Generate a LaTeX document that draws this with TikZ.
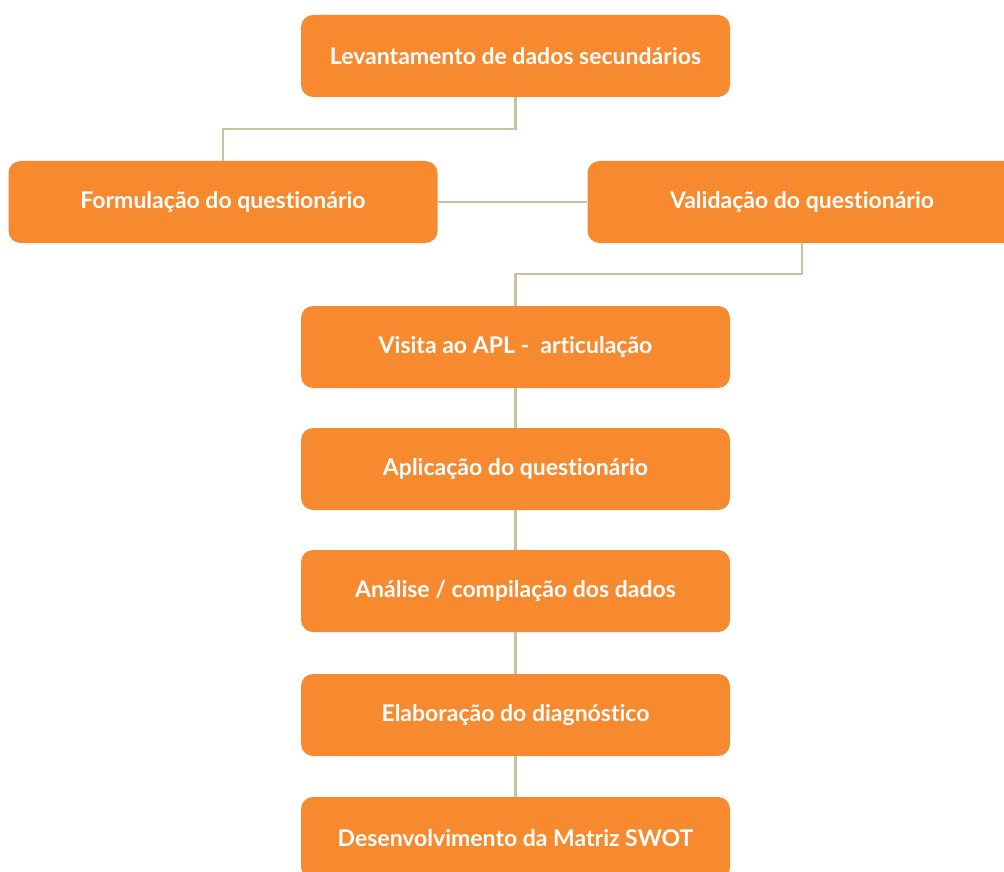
\documentclass[tikz,border=0pt]{standalone}
\usepackage{fontspec}
\setmainfont{Lato}[Ligatures=NoCommon]
\definecolor{boxorange}{HTML}{F7892F}
\definecolor{linktan}{HTML}{C9C29C}
\begin{document}
\begin{tikzpicture}[x=1pt,y=-1pt,
  stepbox/.style={fill=boxorange, draw=none, rounded corners=12pt, minimum width=429pt, minimum height=82pt, inner sep=0pt, text=white, font=\bfseries\fontsize{23}{27}\selectfont},
  link/.style={draw=linktan, line width=2.2pt}]
\useasboundingbox (0,0) rectangle (1004,872);
\begin{scope}
\clip (0,0) rectangle (1004,872);
\node[stepbox] (lev) at (515.5,56) {Levantamento de dados secundários};
\node[stepbox] (form) at (223,202) {Formulação do questionário};
\node[stepbox] (val) at (802,202) {Validação do questionário};
\node[stepbox] (vis) at (515.5,347) {Visita ao APL -\ \ articulação};
\node[stepbox] (apl) at (515.5,469) {Aplicação do questionário};
\node[stepbox] (ana) at (515.5,591) {Análise / compilação dos dados};
\node[stepbox] (ela) at (515.5,715) {Elaboração do diagnóstico};
\node[stepbox] (des) at (515.5,838) {Desenvolvimento da Matriz SWOT};
\draw[link] (lev.south) -- ++(0,32) -| (form.north);
\draw[link] (form.east) -- (val.west);
\draw[link] (val.south) -- ++(0,31) -| (vis.north);
\draw[link] (vis) -- (apl);
\draw[link] (apl) -- (ana);
\draw[link] (ana) -- (ela);
\draw[link] (ela) -- (des);
\end{scope}
\end{tikzpicture}
\end{document}
